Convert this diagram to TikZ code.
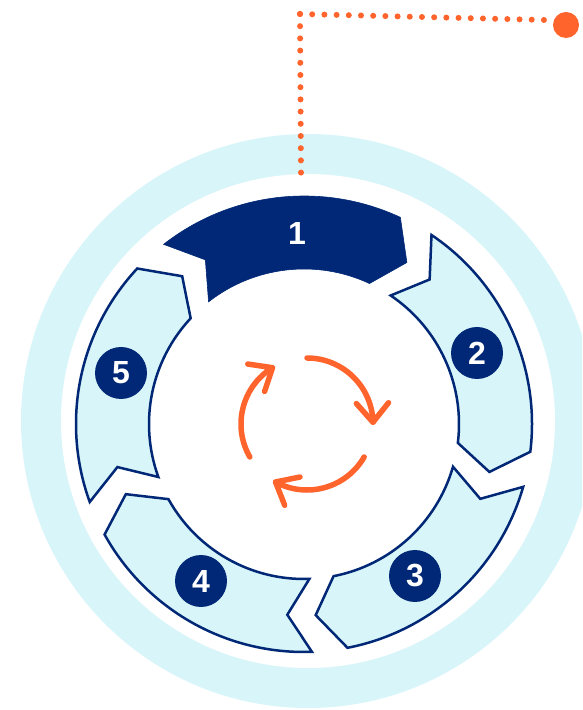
\documentclass[tikz,border=0pt]{standalone}
\usepackage{fontspec}
\setmainfont{Liberation Sans}
\definecolor{navy}{RGB}{0,40,118}
\definecolor{lcyan}{RGB}{216,245,249}
\definecolor{orng}{RGB}{255,100,45}
\begin{document}
\begin{tikzpicture}[x=1pt,y=1pt,
  seg/.style={fill=lcyan,draw=navy,line width=2.5pt,line join=miter},
  segdark/.style={fill=navy,draw=navy,line width=0.6pt},
  numcirc/.style={circle,fill=navy,minimum size=52pt,inner sep=0pt,text=white,font=\fontsize{32}{32}\selectfont\bfseries},
  numtext/.style={inner sep=0pt,text=white,font=\fontsize{32}{32}\selectfont\bfseries},
  cyc/.style={draw=orng,line width=5.5pt,line cap=round,line join=round},
  dots/.style={draw=orng,line width=6pt,line cap=round,dash pattern=on 0pt off 12.2pt},
  bigdot/.style={circle,fill=orng,minimum size=26pt,inner sep=0pt}]
\useasboundingbox (0,0) rectangle (582,710);
\clip (0,0) rectangle (582,710);
\coordinate (C) at (304,286);
\coordinate (R) at (308,289);
% outer ring
\fill[lcyan] (R) circle[radius=287];
\fill[white] (R) circle[radius=247];
% dotted leader
\coordinate (d0) at (301,537);
\coordinate (d1) at (300,696);
\coordinate (d2) at (545,690);
\draw[dots] (d1) -- (d0);
\draw[dots] (d1) -- (d2);
\node[bigdot] (big) at (566,685) {};
% segment 1 (dark)
\begin{scope}[shift={(C)}]
  \path[segdark] (128:228) arc[start angle=128,end angle=65,radius=228]
    -- (57.5:191.5) -- (65:155) arc[start angle=65,end angle=128,radius=155]
    -- (121:191.5) -- cycle;
  \foreach \k in {1,...,4} {
    \pgfmathsetmacro\ta{128-72*\k}
    \pgfmathsetmacro\tb{65-72*\k}
    \pgfmathsetmacro\tp{\tb-7.5}
    \pgfmathsetmacro\tn{\ta-7}
    \path[seg] (\ta:228) arc[start angle=\ta,end angle=\tb,radius=228]
      -- (\tp:191.5) -- (\tb:155) arc[start angle=\tb,end angle=\ta,radius=155]
      -- (\tn:191.5) -- cycle;
  }
\end{scope}
% labels
\node[numtext] (n1) at (297,477) {1};
\node[numcirc] (n2) at (477,357) {2};
\node[numcirc] (n3) at (415,134) {3};
\node[numcirc] (n4) at (201,129) {4};
\node[numcirc] (n5) at (121,337) {5};
% central cycle arrows
\coordinate (O) at (307,286);
\begin{scope}[shift={(O)}]
  \foreach \k in {0,1,2} {
    \pgfmathsetmacro\sa{90-120*\k}
    \pgfmathsetmacro\ea{1.5-120*\k}
    \pgfmathsetmacro\ua{\ea+50}
    \pgfmathsetmacro\va{\ea+130}
    \draw[cyc] (\sa:66) arc[start angle=\sa,end angle=\ea,radius=66]
      -- ++(\ua:25);
    \draw[cyc] (\ea:66) -- ++(\va:25);
  }
\end{scope}
\end{tikzpicture}
\end{document}
